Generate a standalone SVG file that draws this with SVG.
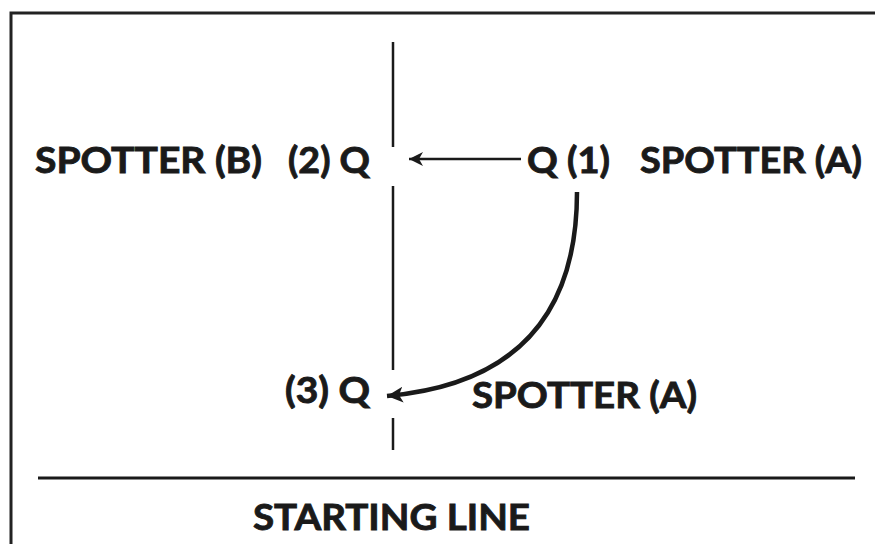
<svg xmlns="http://www.w3.org/2000/svg" width="875" height="544" viewBox="0 0 875 544">
<defs>
<style>
.t{font-family:Lato,"Liberation Sans",sans-serif;font-weight:bold;font-size:37px;fill:#1a1a1a;stroke:#1a1a1a;stroke-width:0.9}
.ln{stroke:#1a1a1a;fill:none}
</style>
<marker id="ah1" markerUnits="userSpaceOnUse" markerWidth="20" markerHeight="16" refX="14" refY="7" orient="auto">
<path d="M0,0 L14,7 L0,14 L4,7 Z" fill="#1a1a1a"/>
</marker>
<marker id="ah2" markerUnits="userSpaceOnUse" markerWidth="22" markerHeight="20" refX="16" refY="8" orient="auto">
<path d="M0,0 L16,8 L0,16 L4,8 Z" fill="#1a1a1a"/>
</marker>
</defs>
<rect width="875" height="544" fill="#ffffff"/>
<rect x="11" y="13" width="880" height="560" fill="none" stroke="#222" stroke-width="3"/>
<g id="lines" class="ln">
<line x1="393" y1="42" x2="393" y2="147" stroke-width="2.5"/>
<line x1="393" y1="186" x2="393" y2="370" stroke-width="2.5"/>
<line x1="393" y1="418" x2="393" y2="450" stroke-width="2.5"/>
<line x1="38" y1="478" x2="855" y2="478" stroke-width="3"/>
</g>
<g id="connectors" class="ln">
<line x1="521" y1="159" x2="409" y2="159" stroke-width="2.5" marker-end="url(#ah1)"/>
<path d="M577,192 C577,318 512,385 387,396" stroke-width="4.5" marker-end="url(#ah2)"/>
</g>
<g id="spotterB"><text class="t" x="35" y="173" textLength="227" lengthAdjust="spacingAndGlyphs">SPOTTER (B)</text></g>
<g id="q2"><text class="t" x="288" y="173" textLength="82" lengthAdjust="spacingAndGlyphs">(2) Q</text></g>
<g id="q1"><text class="t" x="527" y="173" textLength="83" lengthAdjust="spacingAndGlyphs">Q (1)</text></g>
<g id="spotterA1"><text class="t" x="640" y="173" textLength="222" lengthAdjust="spacingAndGlyphs">SPOTTER (A)</text></g>
<g id="q3"><text class="t" x="285" y="403" textLength="85" lengthAdjust="spacingAndGlyphs">(3) Q</text></g>
<g id="spotterA2"><text class="t" x="472" y="408" textLength="225" lengthAdjust="spacingAndGlyphs">SPOTTER (A)</text></g>
<g id="startingLine"><text class="t" x="253" y="530" textLength="277" lengthAdjust="spacingAndGlyphs">STARTING LINE</text></g>
</svg>
